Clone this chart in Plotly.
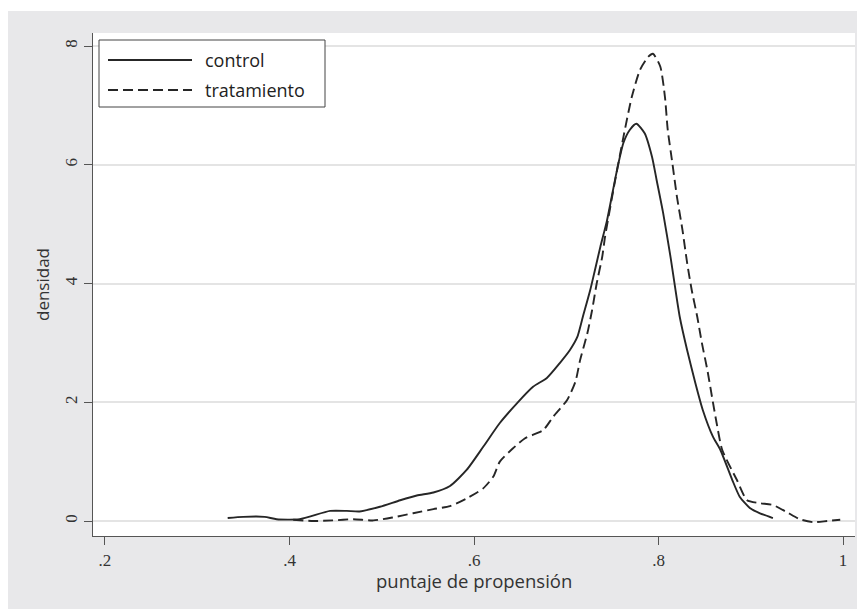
import plotly.graph_objects as go

# ---- data ----
control_x = [0.333, 0.350, 0.373, 0.386, 0.411, 0.444, 0.462, 0.476, 0.498, 0.520,
             0.538, 0.556, 0.574, 0.592, 0.610, 0.628, 0.647, 0.664, 0.679, 0.693,
             0.704, 0.712, 0.718, 0.726, 0.731, 0.737, 0.744, 0.755, 0.762, 0.769,
             0.776, 0.785, 0.793, 0.798, 0.805, 0.813, 0.823, 0.831, 0.840,
             0.848, 0.859, 0.867, 0.880, 0.888, 0.899, 0.910, 0.924]
control_y = [0.05, 0.07, 0.07, 0.03, 0.03, 0.17, 0.17, 0.16, 0.24, 0.35,
             0.43, 0.48, 0.59, 0.86, 1.25, 1.65, 1.99, 2.26, 2.41, 2.66,
             2.88, 3.10, 3.44, 3.89, 4.22, 4.62, 5.05, 5.91, 6.37, 6.59,
             6.69, 6.53, 6.13, 5.74, 5.19, 4.45, 3.44, 2.88, 2.32,
             1.87, 1.42, 1.20, 0.69, 0.41, 0.22, 0.13, 0.05]

treat_x = [0.404, 0.426, 0.447, 0.469, 0.491, 0.512, 0.534, 0.556, 0.574, 0.592,
           0.610, 0.621, 0.628, 0.642, 0.655, 0.675, 0.686, 0.701, 0.710, 0.715,
           0.723, 0.728, 0.733, 0.739, 0.742, 0.751, 0.762, 0.771, 0.780, 0.789,
           0.794, 0.802, 0.807, 0.810, 0.815, 0.820, 0.826, 0.831, 0.836, 0.842,
           0.847, 0.853, 0.858, 0.863, 0.869, 0.885, 0.896, 0.910, 0.924, 0.939,
           0.953, 0.968, 0.983, 0.997]
treat_y = [0.02, 0.00, 0.01, 0.03, 0.01, 0.06, 0.13, 0.20, 0.25, 0.38,
           0.55, 0.75, 1.00, 1.22, 1.39, 1.53, 1.76, 2.04, 2.35, 2.71,
           3.17, 3.55, 4.00, 4.45, 4.78, 5.57, 6.47, 7.14, 7.60, 7.82,
           7.87, 7.65, 7.14, 6.59, 6.03, 5.46, 4.90, 4.35, 3.89, 3.44,
           3.00, 2.54, 2.09, 1.65, 1.20, 0.69, 0.35, 0.30, 0.27, 0.15,
           0.03, -0.02, 0.00, 0.02]

x_ticks = [0.2, 0.4, 0.6, 0.8, 1.0]
x_tick_labels = [".2", ".4", ".6", ".8", "1"]
y_ticks = [0, 2, 4, 6, 8]
y_tick_labels = ["0", "2", "4", "6", "8"]
series_names = ["control", "tratamiento"]
x_title = "puntaje de propensión"
y_title = "densidad"

LINE = "#262626"
GRAY = "#e8e8ea"
SANS = "Open Sans, Noto Sans, sans-serif"
SERIF = "Liberation Serif, DejaVu Serif, serif"

fig = go.Figure()
fig.add_trace(go.Scatter(x=control_x, y=control_y, mode="lines", name=series_names[0],
                         line=dict(color=LINE, width=1.9, shape="spline", smoothing=0.6)))
fig.add_trace(go.Scatter(x=treat_x, y=treat_y, mode="lines", name=series_names[1],
                         line=dict(color=LINE, width=1.9, dash="10px,5px",
                                   shape="spline", smoothing=0.6)))

# page puts the figure 8px from the window's top-left corner
OFF = 8
W, H = 857, 601
L, R, T, B = 85, 10, 25, 73
pw, ph = W - L - R, H - T - B

def px(p):  # window pixel x -> paper x
    return (p - OFF - L) / pw

def py(q):  # window pixel y -> paper y
    return (H - B - (q - OFF)) / ph

shapes = [
    # thin white strip above the grey frame
    dict(type="rect", xref="paper", yref="paper", x0=px(0), x1=px(W + 20), y0=py(11), y1=py(0),
         fillcolor="white", line=dict(width=0), layer="below"),
    # legend box
    dict(type="rect", xref="paper", yref="paper", x0=px(99), x1=px(325), y0=py(107), y1=py(40),
         fillcolor="white", line=dict(color="#444444", width=1), layer="above"),
    dict(type="line", xref="paper", yref="paper", x0=px(108), x1=px(192), y0=py(60), y1=py(60),
         line=dict(color=LINE, width=1.9), layer="above"),
    dict(type="line", xref="paper", yref="paper", x0=px(108), x1=px(192), y0=py(90), y1=py(90),
         line=dict(color=LINE, width=1.9, dash="10px,5px"), layer="above"),
]

annotations = [
    dict(xref="paper", yref="paper", x=px(203), y=py(60), text=series_names[0], showarrow=False,
         xanchor="left", yanchor="middle", font=dict(family=SANS, size=18, color="#222")),
    dict(xref="paper", yref="paper", x=px(203), y=py(90), text=series_names[1], showarrow=False,
         xanchor="left", yanchor="middle", font=dict(family=SANS, size=18, color="#222")),
    dict(xref="paper", yref="paper", x=0.5, y=py(580), text=x_title, showarrow=False,
         xanchor="center", yanchor="middle", font=dict(family=SANS, size=18.5, color="#333")),
]

fig.update_layout(
    width=W, height=H,
    margin=dict(l=L, r=R, t=T, b=B, pad=0),
    paper_bgcolor=GRAY,
    plot_bgcolor="white",
    showlegend=False,
    shapes=shapes,
    annotations=annotations,
    xaxis=dict(
        range=[0.187, 1.013], tickvals=x_ticks, ticktext=x_tick_labels,
        showgrid=False, zeroline=False,
        showline=True, linecolor="#555555", linewidth=1.2,
        ticks="outside", ticklen=8, tickcolor="#555555", tickwidth=1.2,
        tickfont=dict(family=SERIF, size=17, color="#333"),
    ),
    yaxis=dict(
        range=[-0.2526, 8.219], tickvals=y_ticks, ticktext=y_tick_labels,
        showgrid=True, gridcolor="#e4e4e4", gridwidth=2, zeroline=False,
        showline=True, linecolor="#555555", linewidth=1.2,
        ticks="outside", ticklen=8, tickcolor="#555555", tickwidth=1.2,
        tickangle=-90,
        tickfont=dict(family=SERIF, size=17, color="#333"),
        title=dict(text=y_title, font=dict(family=SANS, size=17, color="#333"), standoff=8),
    ),
)

fig.write_html("out.html")
